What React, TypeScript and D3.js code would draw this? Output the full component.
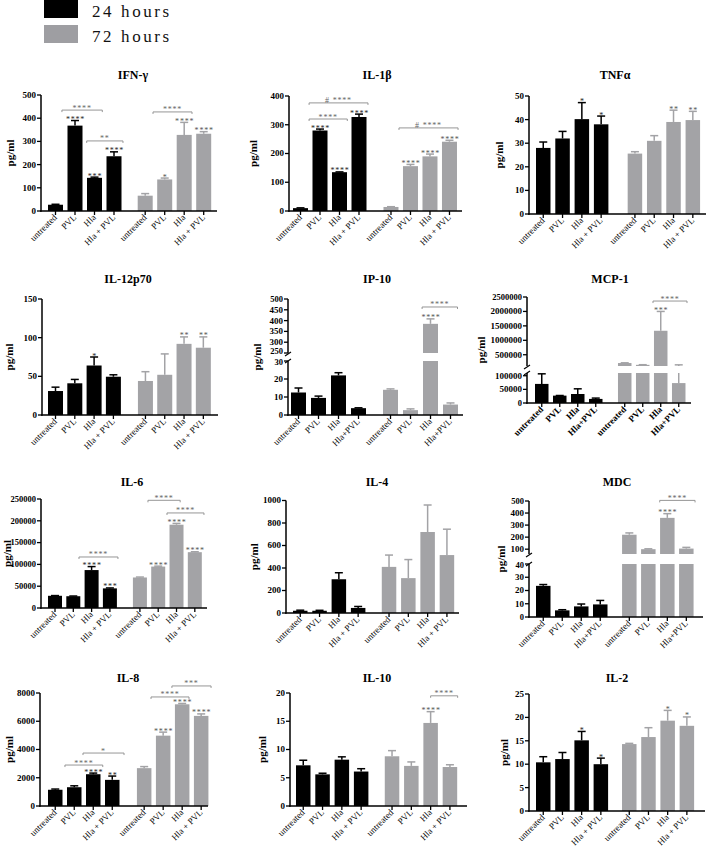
import React from 'react';
import * as d3 from 'd3';

const LABELS_SP = ['untreated', 'PVL', 'Hla', 'Hla + PVL', 'untreated', 'PVL', 'Hla', 'Hla + PVL'];
const LABELS_CP = ['untreated', 'PVL', 'Hla', 'Hla+PVL', 'untreated', 'PVL', 'Hla', 'Hla+PVL'];
const SERIES = ['24 hours', '72 hours'];

// each array: 4 bars at 24 hours followed by 4 bars at 72 hours
const ifnMean = [27, 368, 143, 236, 66, 136, 328, 333];
const ifnErr = [29, 390, 146, 255, 75, 142, 382, 342];
const ifnStars = ['', '****', '***', '****', '', '*', '****', '****'];
const ifnTicks = [0, 100, 200, 300, 400, 500];

const il1Mean = [10, 280, 135, 327, 14, 156, 190, 241];
const il1Err = [11, 285, 136, 337, 15, 162, 198, 246];
const il1Stars = ['', '****', '****', '****', '', '****', '****', '****'];
const il1Ticks = [0, 100, 200, 300, 400];

const tnfMean = [28, 32, 40.2, 38, 25.6, 31, 39, 39.8];
const tnfErr = [30.5, 35, 47.2, 41.5, 26.4, 33.2, 44, 43.5];
const tnfStars = ['', '', '*', '*', '', '', '**', '**'];
const tnfTicks = [0, 10, 20, 30, 40, 50];

const il12Mean = [31, 41, 64, 49.5, 44, 52, 92, 87];
const il12Err = [36, 46, 75, 52, 56, 79, 101, 101];
const il12Stars = ['', '', '*', '', '', '', '**', '**'];
const il12Ticks = [0, 50, 100, 150];

const ip10Mean = [12.5, 9.5, 22, 3.8, 14, 2.7, 385, 5.8];
const ip10Err = [15, 10.5, 23.5, 4, 14.5, 3.4, 408, 6.7];
const ip10Stars = ['', '', '', '', '', '', '****', ''];
const ip10TicksLow = [0, 10, 20, 30];
const ip10TicksHigh = [250, 300, 350, 400, 450, 500];

const mcpMean = [70000, 27000, 33000, 15000, 213000, 150000, 1330000, 73000];
const mcpErr = [107000, 27500, 52000, 18000, 220000, 155000, 2000000, 150000];
const mcpStars = ['', '', '', '', '', '', '***', ''];
const mcpTicksLow = [0, 50000, 100000];
const mcpTicksHigh = [500000, 1000000, 1500000, 2000000, 2500000];

const il6Mean = [28000, 27000, 87000, 45000, 70000, 95000, 191000, 128000];
const il6Err = [28500, 27500, 95000, 46000, 71000, 96000, 194000, 129000];
const il6Stars = ['', '', '****', '***', '', '****', '****', '****'];
const il6Ticks = [0, 50000, 100000, 150000, 200000, 250000];

const il4Mean = [20, 20, 300, 45, 410, 310, 720, 515];
const il4Err = [25, 24, 358, 58, 515, 475, 960, 745];
const il4Stars = ['', '', '', '', '', '', '', ''];
const il4Ticks = [0, 200, 400, 600, 800, 1000];

const mdcMean = [23.5, 5, 8, 9.5, 220, 100, 360, 105];
const mdcErr = [24.5, 5.5, 9.8, 12.5, 235, 103, 395, 115];
const mdcStars = ['', '', '', '', '', '', '****', ''];
const mdcTicksLow = [0, 10, 20, 30, 40];
const mdcTicksHigh = [100, 200, 300, 400, 500];

const il8Mean = [1150, 1330, 2250, 1850, 2680, 4980, 7200, 6380];
const il8Err = [1200, 1430, 2330, 2120, 2790, 5230, 7260, 6520];
const il8Stars = ['', '', '****', '**', '', '****', '****', '****'];
const il8Ticks = [0, 2000, 4000, 6000, 8000];

const il10Mean = [7.2, 5.6, 8.2, 6.1, 8.8, 7.1, 14.7, 6.9];
const il10Err = [8.1, 5.8, 8.7, 6.6, 9.8, 7.8, 16.7, 7.3];
const il10Stars = ['', '', '', '', '', '', '****', ''];
const il10Ticks = [0, 5, 10, 15, 20];

const il2Mean = [10.4, 11.1, 15.1, 10, 14.3, 15.8, 19.3, 18.2];
const il2Err = [11.6, 12.5, 17, 11.3, 14.45, 17.8, 21.5, 20.1];
const il2Stars = ['', '', '*', '*', '', '', '*', '*'];
const il2Ticks = [0, 5, 10, 15, 20, 25];

// significance brackets: a/b = bar index (fractional), v = data height
const ifnBr = [
  { a: 0.33, b: 2.4, v: 435, t: '****' },
  { a: 1.6, b: 3.46, v: 302, t: '**' },
  { a: 4.4, b: 6.4, v: 427, t: '****' },
];
const il1Br = [
  { a: 0.44, b: 3.46, v: 376, t: '#  ****' },
  { a: 0.44, b: 2.4, v: 320, t: '****' },
  { a: 4.41, b: 7.44, v: 289, t: '#  ****' },
];
const ip10Br = [{ a: 5.58, b: 7.35, v: 463, t: '****' }];
const mcpBr = [{ a: 5.57, b: 7.46, v: 2360000, t: '****' }];
const il6Br = [
  { a: 1.31, b: 3.44, v: 117000, t: '****' },
  { a: 4.44, b: 6.2, v: 247000, t: '****' },
  { a: 5.48, b: 7.5, v: 218000, t: '****' },
];
const mdcBr = [{ a: 5.6, b: 7.46, v: 505, t: '****' }];
const il8Br = [
  { a: 0.51, b: 2.5, v: 2900, t: '****' },
  { a: 1.46, b: 3.62, v: 3750, t: '*' },
  { a: 4.36, b: 6.36, v: 7720, t: '****' },
  { a: 5.46, b: 7.52, v: 8500, t: '***' },
];
const il10Br = [{ a: 6.0, b: 7.4, v: 19.5, t: '****' }];

const PANELS = [
  { title: 'IFN-γ', labels: LABELS_SP, mean: ifnMean, err: ifnErr, stars: ifnStars, br: ifnBr, segs: [{ d: [0, 500], ticks: ifnTicks }] },
  { title: 'IL-1β', labels: LABELS_SP, mean: il1Mean, err: il1Err, stars: il1Stars, br: il1Br, segs: [{ d: [0, 400], ticks: il1Ticks }] },
  { title: 'TNFα', labels: LABELS_SP, mean: tnfMean, err: tnfErr, stars: tnfStars, br: [], segs: [{ d: [0, 50], ticks: tnfTicks }] },
  { title: 'IL-12p70', labels: LABELS_SP, mean: il12Mean, err: il12Err, stars: il12Stars, br: [], segs: [{ d: [0, 150], ticks: il12Ticks }] },
  { title: 'IP-10', labels: LABELS_CP, mean: ip10Mean, err: ip10Err, stars: ip10Stars, br: ip10Br, segs: [{ d: [0, 30], ticks: ip10TicksLow }, { d: [250, 500], ticks: ip10TicksHigh }] },
  { title: 'MCP-1', labels: LABELS_CP, boldLabels: true, mean: mcpMean, err: mcpErr, stars: mcpStars, br: mcpBr, segs: [{ d: [0, 110000], ticks: mcpTicksLow }, { d: [110000, 2500000], ticks: mcpTicksHigh }] },
  { title: 'IL-6', labels: LABELS_SP, mean: il6Mean, err: il6Err, stars: il6Stars, br: il6Br, segs: [{ d: [0, 250000], ticks: il6Ticks }] },
  { title: 'IL-4', labels: LABELS_SP, mean: il4Mean, err: il4Err, stars: il4Stars, br: [], segs: [{ d: [0, 1000], ticks: il4Ticks }] },
  { title: 'MDC', labels: LABELS_CP, mean: mdcMean, err: mdcErr, stars: mdcStars, br: mdcBr, segs: [{ d: [0, 40], ticks: mdcTicksLow }, { d: [60, 500], ticks: mdcTicksHigh }] },
  { title: 'IL-8', labels: LABELS_SP, mean: il8Mean, err: il8Err, stars: il8Stars, br: il8Br, segs: [{ d: [0, 8000], ticks: il8Ticks }] },
  { title: 'IL-10', labels: LABELS_SP, mean: il10Mean, err: il10Err, stars: il10Stars, br: il10Br, segs: [{ d: [0, 20], ticks: il10Ticks }] },
  { title: 'IL-2', labels: LABELS_SP, mean: il2Mean, err: il2Err, stars: il2Stars, br: [], segs: [{ d: [0, 25], ticks: il2Ticks }] },
];

// layout per panel (pixels)
const LAYOUT = [
  { ax: 41, xEnd: 217, first: 48, step: 19.5, gap: 1.6, bw: 15, tx: 133, ty: 75, yl: 27, tf: 9, segR: [[211, 95]] },
  { ax: 289, xEnd: 462, first: 293, step: 19.5, gap: 1.64, bw: 15, tx: 377, ty: 75, yl: 32, tf: 9, segR: [[211, 96]] },
  { ax: 529, xEnd: 706, first: 536, step: 19.3, gap: 1.75, bw: 14.5, tx: 615, ty: 75, yl: 26, tf: 9, segR: [[214, 96]] },
  { ax: 42, xEnd: 218, first: 48, step: 19.3, gap: 1.66, bw: 15, tx: 128, ty: 279, yl: 29, tf: 9, segR: [[415, 299]] },
  { ax: 288, xEnd: 463, first: 291, step: 20, gap: 1.6, bw: 15, tx: 377, ty: 279, yl: 27, tf: 9, segR: [[415, 361], [353, 299]] },
  { ax: 527, xEnd: 691, first: 535, step: 18, gap: 1.61, bw: 13.5, tx: 610, ty: 279, yl: 42, tf: 9, segR: [[403, 373], [366, 297]] },
  { ax: 41, xEnd: 207, first: 48, step: 18.3, gap: 1.64, bw: 14, tx: 132, ty: 482, yl: 30, tf: 8.5, segR: [[608, 499]] },
  { ax: 286, xEnd: 459, first: 293, step: 19.3, gap: 1.6, bw: 14.5, tx: 377, ty: 482, yl: 28, tf: 9, segR: [[613, 500.5]] },
  { ax: 529, xEnd: 703, first: 536, step: 19, gap: 1.53, bw: 14.5, tx: 617, ty: 482, yl: 24, tf: 9, segR: [[617, 564], [554, 501]] },
  { ax: 40, xEnd: 208, first: 48, step: 19, gap: 1.68, bw: 14.5, tx: 128, ty: 678, yl: 27, tf: 9, segR: [[806, 693]] },
  { ax: 290, xEnd: 467, first: 296, step: 19.3, gap: 1.6, bw: 14.5, tx: 377, ty: 678, yl: 24, tf: 9, segR: [[806, 693]] },
  { ax: 529, xEnd: 705, first: 536, step: 19.2, gap: 1.48, bw: 14.5, tx: 617, ty: 678, yl: 21, tf: 9, segR: [[811, 694]] },
];

const FONT = '"Liberation Serif", "Times New Roman", serif';
const BLACK = '#000000';
const GRAY = '#a3a3a6';
const fmt = d3.format('d');

function Panel({ d, l }: any) {
  const xs = d3.scaleLinear().domain([0, 1]).range([l.first, l.first + l.step]);
  const slot = (i: number) => (i < 4 ? i : i + l.gap - 1);
  const cx = (i: number) => xs(slot(i)) + l.bw / 2;
  const segs = d.segs.map((s: any, k: number) => ({
    ...s,
    y: d3.scaleLinear().domain(s.d).range(l.segR[k]),
  }));
  const yBot = l.segR[0][0];
  const yTop = l.segR[l.segR.length - 1][1];
  const nSeg = segs.length;
  const segFor = (v: number) => {
    for (const s of segs) if (v <= s.d[1]) return s;
    return segs[nSeg - 1];
  };
  const posY = (v: number) => {
    const s = segFor(v);
    return s.y(Math.max(v, s.d[0]));
  };
  const els: any[] = [];

  d.mean.forEach((m: number, i: number) => {
    const col = i < 4 ? BLACK : GRAY;
    const x = xs(slot(i));
    const c = cx(i);
    const e = d.err[i];
    segs.forEach((s: any, k: number) => {
      const hi = Math.min(m, s.d[1]);
      if (hi > s.d[0]) {
        els.push(<rect key={`b${i}-${k}`} x={x} width={l.bw} y={s.y(hi)} height={s.y(s.d[0]) - s.y(hi)} fill={col} />);
      }
      const elo = Math.max(m, s.d[0]);
      const ehi = Math.min(e, s.d[1]);
      if (ehi > elo) {
        els.push(<line key={`e${i}-${k}`} x1={c} x2={c} y1={s.y(elo)} y2={s.y(ehi)} stroke={col} strokeWidth={1.5} />);
      }
    });
    if (e > m) {
      const ye = posY(e);
      els.push(<line key={`c${i}`} x1={c - 4} x2={c + 4} y1={ye} y2={ye} stroke={col} strokeWidth={1.5} />);
    }
    if (d.stars[i]) {
      const ye = posY(Math.max(e, m));
      els.push(
        <text key={`s${i}`} x={c + 0.5} y={ye + 1.5} textAnchor="middle" fontSize={8} letterSpacing={0.8} fill={i < 4 ? '#222' : '#555'} fontFamily={FONT}>
          {d.stars[i]}
        </text>
      );
    }
  });

  d.br.forEach((b: any, k: number) => {
    const pos = (a: number) => xs(slot(a)) + l.bw / 2;
    const x1 = pos(b.a);
    const x2 = pos(b.b);
    const y = posY(b.v);
    els.push(
      <g key={`br${k}`}>
        <path d={`M${x1},${y + 2}V${y}H${x2}V${y + 2}`} fill="none" stroke="#8a8a8a" strokeWidth={0.9} />
        <text x={(x1 + x2) / 2} y={y + 0.5} textAnchor="middle" fontSize={8} letterSpacing={0.8} fill="#666" fontFamily={FONT}>
          {b.t}
        </text>
      </g>
    );
  });

  segs.forEach((s: any, k: number) => {
    const r = l.segR[k];
    els.push(<line key={`ya${k}`} x1={l.ax} x2={l.ax} y1={r[0] + (k === 0 ? 0.75 : 0)} y2={r[1]} stroke="#000" strokeWidth={1.5} />);
    s.ticks.forEach((t: number, ti: number) => {
      const y = s.y(t);
      let nudge = 0;
      if (nSeg > 1 && k < nSeg - 1 && ti === s.ticks.length - 1 && t === s.d[1]) nudge = 1.5;
      if (nSeg > 1 && k > 0 && ti === 0 && t === s.d[0]) nudge = -1.5;
      els.push(<line key={`yt${k}-${t}`} x1={l.ax - 4} x2={l.ax} y1={y} y2={y} stroke="#000" strokeWidth={1.3} />);
      els.push(
        <text key={`yl${k}-${t}`} x={l.ax - 5} y={y + nudge} dy="0.33em" textAnchor="end" fontSize={nSeg > 1 && (t === s.d[0] || t === s.d[1]) ? l.tf - 0.5 : l.tf} fontWeight="bold" fontFamily={FONT}>
          {fmt(t)}
        </text>
      );
    });
    if (k > 0) {
      const yb = l.segR[k][0];
      const ya = l.segR[k - 1][1];
      els.push(<line key={`bk1${k}`} x1={l.ax - 3} x2={l.ax + 3} y1={yb + 3} y2={yb - 1} stroke="#000" strokeWidth={1.2} />);
      els.push(<line key={`bk2${k}`} x1={l.ax - 3} x2={l.ax + 3} y1={ya + 2} y2={ya - 2} stroke="#000" strokeWidth={1.2} />);
    }
  });

  els.push(<line key="xa" x1={l.ax - 0.75} x2={l.xEnd} y1={yBot} y2={yBot} stroke="#000" strokeWidth={1.5} />);
  d.labels.forEach((lab: string, i: number) => {
    const c = cx(i);
    els.push(<line key={`xt${i}`} x1={c} x2={c} y1={yBot} y2={yBot + 4} stroke="#000" strokeWidth={1.3} />);
    els.push(
      <text
        key={`xl${i}`}
        transform={`translate(${c + 2},${yBot + 7}) rotate(-45)`}
        textAnchor="end"
        fontSize={9}
        fontWeight={d.boldLabels ? 'bold' : 'normal'}
        fontFamily={FONT}
      >
        {lab}
      </text>
    );
  });

  els.push(
    <text key="ylab" transform={`translate(${l.ax - l.yl},${(yTop + yBot) / 2}) rotate(-90)`} textAnchor="middle" fontSize={11} fontWeight="bold" fontFamily={FONT}>
      pg/ml
    </text>
  );
  els.push(
    <text key="title" x={l.tx} y={l.ty} dy="0.35em" textAnchor="middle" fontSize={12} fontWeight="bold" fontFamily={FONT}>
      {d.title}
    </text>
  );
  return <g>{els}</g>;
}

export default function App() {
  const legendY = d3.scalePoint().domain(SERIES).range([0, 25]);
  const legendCol = [BLACK, '#9e9ea2'];
  return (
    <svg width={708} height={853} style={{ position: 'absolute', left: 0, top: 0, background: '#fff' }}>
      <rect width={708} height={853} fill="#fff" />
      {SERIES.map((s, i) => (
        <g key={s}>
          <rect x={44} y={legendY(s)!} width={34} height={18} fill={legendCol[i]} />
          <text x={92} y={legendY(s)! + 16.5} fontSize={17} letterSpacing={2.6} fontFamily={FONT} fill="#111">
            {s}
          </text>
        </g>
      ))}
      {PANELS.map((p, i) => (
        <Panel key={p.title} d={p} l={LAYOUT[i]} />
      ))}
    </svg>
  );
}
